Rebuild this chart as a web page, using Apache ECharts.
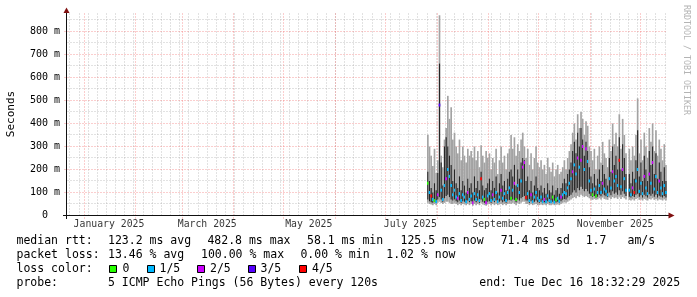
<!DOCTYPE html>
<html><head><meta charset="utf-8">
<script src="https://cdn.jsdelivr.net/npm/echarts@6/dist/echarts.min.js"></script>
<style>html,body{margin:0;padding:0;background:#fff}#c{width:697px;height:297px}</style>
</head><body><div id="c"></div>
<script>
// ---------- data (milliseconds), one value per day starting firstDay ----------
const firstDay = [2025, 6, 26]; // 26 July 2025 (month is 0-based)
const lo = [
 55,50,48,45,50,45,55,60,55,50, 55,60,60,55,50,50,55,50,45,50,
 45,50,48,45,50,45,50,42,50,45, 50,45,55,48,45,42,48,50,45,50,
 45,50,45,48,50,45,50,45,50,52, 50,55,50,45,55,50,55,60,60,50,
 50,45,50,45,48,50,45,45,48,45, 48,45,50,45,45,48,45,47,48,45,
 50,55,58,55,60,65,70,75,80,75, 85,80,90,85,80,85,80,75,70,68,
 72,68,70,75,70,78,72,70,68,78, 72,80,75,78,72,82,72,80,75,70,
 null,68,65,70,65,72,75,68,70,65, 72,68,65,72,70,75,68,72,65,70,
 68,65,70,65];
const dlo = [
 70,62,58,55,60,55,70,80,70,60, 75,85,90,80,70,65,70,62,58,65,
 55,62,60,55,65,58,62,55,65,58, 65,55,70,60,55,52,60,62,55,65,
 58,65,55,60,65,58,62,55,65,68, 65,70,68,58,70,65,75,80,85,65,
 65,55,62,55,60,65,58,55,60,55, 58,55,62,56,55,60,54,57,60,55,
 62,68,72,70,78,85,90,100,110,100, 120,110,125,115,105,115,105,95,85,80,
 85,78,82,90,84,95,88,84,80,100, 88,105,95,100,90,110,90,105,95,85,
 null,82,78,85,80,90,95,82,88,78, 90,84,78,92,86,95,82,90,78,86,
 82,78,85,78];
const dhi = [
 190,150,120,100,140,110,185,660,230,130, 300,340,300,260,220,150,200,140,120,170,
 110,150,130,100,160,120,140,100,170,120, 150,110,190,130,110,120,140,160,110,150,
 120,170,100,140,180,130,150,110,160,190, 200,170,220,130,200,160,230,250,240,150,
 170,110,150,100,130,170,120,110,130,100, 120,95,140,110,100,130,90,110,120,95,
 120,140,160,140,180,200,230,280,320,270, 360,300,380,330,260,320,280,210,170,140,
 180,130,160,200,150,220,180,160,130,250, 190,300,220,260,200,340,200,310,250,180,
 null,180,140,190,160,240,370,170,230,150, 260,200,150,280,220,300,180,270,160,230,
 190,150,210,150];
const hi = [
 350,300,260,215,290,185,240,870,260,210, 330,380,520,420,470,330,360,300,270,330,
 240,300,260,230,290,260,280,250,300,240, 280,210,305,260,230,280,250,270,200,250,
 230,290,180,240,300,230,260,200,270,290, 350,290,340,260,310,280,330,360,300,250,
 290,220,270,200,250,300,230,210,240,200, 220,180,250,210,190,230,170,200,220,180,
 190,210,240,200,250,280,310,360,400,330, 440,380,450,420,350,410,390,300,280,240,
 290,200,260,300,230,320,270,250,210,330, 280,400,310,360,300,440,290,420,350,270,
 null,290,240,300,260,350,509,270,330,240, 360,300,250,380,320,400,280,370,260,330,
 290,240,310,220];
const med = [
 140,100,85,70,65,60,90,480,110,70, 130,160,200,170,130,90,110,80,75,95,
 65,90,80,60,100,70,85,55,95,70, 90,65,160,80,70,55,85,95,65,90,
 70,100,60,80,110,75,95,65,100,120, 75,110,140,70,130,100,150,210,230,78,
 95,65,90,60,80,100,75,65,80,60, 70,60,85,65,60,80,58,68,75,62,
 80,90,100,95,120,140,160,190,220,180, 250,210,240,300,200,290,235,150,110,90,
 115,85,100,130,100,140,115,105,90,160, 120,190,150,170,130,240,125,200,160,110,
 null,110,90,120,100,150,200,105,140,95, 170,120,95,180,140,230,115,170,100,150,
 120,95,130,100];
const loss = [
 0,1,4,1,0,1,2,3,1,1, 1,2,1,1,1,1,1,1,2,1,
 1,1,1,1,2,1,1,2,1,1, 1,1,4,1,0,2,1,1,1,2,
 1,1,1,1,2,1,1,1,1,1, 0,1,2,0,1,1,1,2,2,4,
 1,1,2,1,1,1,1,1,1,1, 2,1,1,1,1,0,1,0,1,1,
 2,1,1,1,1,1,1,2,1,1, 2,1,2,2,1,2,1,1,1,0,
 1,0,1,1,1,2,1,1,1,1, 1,2,1,1,1,4,1,2,1,1,
 null,1,1,2,4,1,1,1,1,1, 2,1,1,2,1,2,1,1,1,2,
 1,1,1,1];
const lossColors = ['#26ff00','#00b8ff','#cc00ff','#5500ff','#ff0000'];
const lossNames = ['0','1/5','2/5','3/5','4/5'];

const monthLabels = ['January 2025','March 2025','May 2025','July 2025','September 2025','November 2025'];
const monthLabelDates = [[2025,0,16],[2025,2,16],[2025,4,16],[2025,6,16],[2025,8,16],[2025,10,16]];
const monthStarts = [[2025,0,1],[2025,1,1],[2025,2,1],[2025,3,1],[2025,4,1],[2025,5,1],[2025,6,1],[2025,7,1],[2025,8,1],[2025,9,1],[2025,10,1],[2025,11,1]];
const yMajor = [100,200,300,400,500,600,700,800];
const yMinor = [50,150,250,350,450,550,650,750,850];
const yTickLabels = {0:'0  ',100:'100 m',200:'200 m',300:'300 m',400:'400 m',500:'500 m',600:'600 m',700:'700 m',800:'800 m'};

const DAY = 86400000;
const ts = a => new Date(a[0], a[1], a[2]).getTime();
const tEnd = new Date(2025, 11, 16, 18, 32, 29).getTime();
const tStart = tEnd - 360 * DAY;
const Y_MAX = 880;
// minor vertical grid every 5.5 days (as in the rrdtool picture), anchored on 1 June
const minorAnchor = ts([2025,5,1]);
const minorX = [];
for (let t = minorAnchor; t > tStart; t -= 5.5 * DAY) minorX.push(t);
for (let t = minorAnchor + 5.5 * DAY; t < tEnd; t += 5.5 * DAY) minorX.push(t);

const base = ts(firstDay);
const rows = [];
for (let i = 0; i < lo.length; i++) {
  if (lo[i] == null) continue;
  rows.push([base + i * DAY, lo[i], dlo[i], dhi[i], hi[i], med[i], loss[i]]);
}

// grid lines: [time, value, kind]  kind 0 minor-x, 1 major-x, 2 minor-y, 3 major-y
const gridRows = [];
minorX.forEach(t => gridRows.push([t, 0, 0]));
yMinor.forEach(v => gridRows.push([tStart, v, 2]));
monthStarts.forEach(d => gridRows.push([ts(d), 0, 1]));
yMajor.forEach(v => gridRows.push([tStart, v, 3]));

const FONT = "'DejaVu Sans Mono', monospace";
const MINOR = 'rgba(150,150,150,0.55)';
const MAJOR = 'rgba(240,90,90,0.6)';

const chart = echarts.init(document.getElementById('c'), null, {renderer: 'canvas'});

function txt(x, y, s, size) {
  return {type: 'text', x: x, y: y, silent: true,
    style: {text: s, fill: '#000', fontSize: size || 11.5, fontFamily: FONT, align: 'left', verticalAlign: 'middle'}};
}
const graphics = [
  {type: 'line', z: 10, shape: {x1: 66.5, y1: 10, x2: 66.5, y2: 219}, style: {stroke: '#111', lineWidth: 1}},
  {type: 'line', z: 10, shape: {x1: 63, y1: 215.5, x2: 669, y2: 215.5}, style: {stroke: '#111', lineWidth: 1}},
  {type: 'polygon', z: 10, shape: {points: [[63.5, 13], [69.5, 13], [66.5, 7.5]]}, style: {fill: '#801010'}},
  {type: 'polygon', z: 10, shape: {points: [[668.5, 212.5], [668.5, 218.5], [674.5, 215.5]]}, style: {fill: '#801010'}},
  {type: 'text', x: 11, y: 114, rotation: Math.PI / 2,
    style: {text: 'Seconds', fill: '#000', fontSize: 11, fontFamily: FONT, align: 'center', verticalAlign: 'middle'}},
  {type: 'text', x: 686, y: 5, rotation: -Math.PI / 2,
    style: {text: 'RRDTOOL / TOBI OETIKER', fill: '#b4b4b4', fontSize: 8.3, fontFamily: FONT, align: 'left', verticalAlign: 'middle'}},
  txt(16.5, 241, 'median rtt:'), txt(108, 241, '123.2 ms avg'), txt(207.4, 241, '482.8 ms max'),
  txt(307, 241, '58.1 ms min'), txt(400.5, 241, '125.5 ms now'), txt(500.7, 241, '71.4 ms sd'),
  txt(585.7, 241, '1.7'), txt(627.5, 241, 'am/s'),
  txt(16.5, 255, 'packet loss:'), txt(108, 255, '13.46 % avg'), txt(201, 255, '100.00 % max'),
  txt(300.4, 255, '0.00 % min'), txt(386.3, 255, '1.02 % now'),
  txt(16.5, 269, 'loss color:'),
  txt(16.5, 283, 'probe:'), txt(108, 283, '5 ICMP Echo Pings (56 Bytes) every 120s'),
  txt(479.3, 283, 'end: Tue Dec 16 18:32:29 2025')
];
const boxX = [109.5, 147.5, 197.5, 248.5, 299.5];
const boxLabelX = [122.5, 159.5, 210, 260.5, 312];
lossColors.forEach((c, k) => {
  graphics.push({type: 'rect', shape: {x: boxX[k], y: 265.5, width: 7, height: 7}, style: {fill: c, stroke: '#000', lineWidth: 1}});
  graphics.push(txt(boxLabelX[k], 269, lossNames[k]));
});

chart.setOption({
  animation: false,
  backgroundColor: '#fff',
  grid: {left: 67, top: 13, right: 30.6, bottom: 81.5, containLabel: false},
  xAxis: {type: 'time', min: tStart, max: tEnd,
    axisLine: {show: false}, axisTick: {show: false}, axisLabel: {show: false}, splitLine: {show: false}},
  yAxis: {type: 'value', min: 0, max: Y_MAX, interval: 100,
    axisLine: {show: false}, axisTick: {show: false}, splitLine: {show: false},
    axisLabel: {margin: 7, fontFamily: FONT, fontSize: 10, color: '#000',
      formatter: v => (yTickLabels[v] !== undefined ? yTickLabels[v] : '')}},
  graphic: graphics,
  series: [
    {type: 'custom', z: 1, silent: true, clip: false,
      encode: {x: 0, y: 1},
      data: gridRows,
      renderItem: function (params, api) {
        const kind = api.value(2);
        const bottom = Math.floor(api.coord([tStart, 0])[1]) + 0.5;
        const top = Math.floor(api.coord([tStart, Y_MAX])[1]) + 0.5;
        const left = Math.floor(api.coord([tStart, 0])[0]) + 0.5;
        const right = Math.floor(api.coord([tEnd, 0])[0]) + 0.5;
        const major = kind === 1 || kind === 3;
        const style = {stroke: major ? MAJOR : MINOR, lineWidth: 1, lineDash: [1, 2], fill: null};
        if (kind <= 1) {
          const x = Math.floor(api.coord([api.value(0), 0])[0]) + 0.5;
          return {type: 'line', shape: {x1: x, y1: top, x2: x, y2: bottom + (major ? 3 : 2)}, style: style};
        }
        const y = Math.floor(api.coord([tStart, api.value(1)])[1]) + 0.5;
        return {type: 'line', shape: {x1: major ? left - 3 : left, y1: y, x2: right, y2: y}, style: style};
      }},
    {type: 'scatter', z: 1, silent: true, symbolSize: 1, itemStyle: {color: 'rgba(0,0,0,0)'},
      data: monthLabelDates.map(d => [ts(d), 0]),
      label: {show: true, position: 'bottom', distance: 3.5, fontFamily: FONT, fontSize: 9.8, color: '#000',
        formatter: p => monthLabels[p.dataIndex]}},
    {type: 'custom', z: 2, silent: true,
      encode: {x: 0, y: [1, 4]},
      data: rows,
      renderItem: function (params, api) {
        const t = api.value(0);
        const w = api.size([DAY, 0])[0];
        const x0 = api.coord([t, 0])[0];
        const yLo = api.coord([t, api.value(1)])[1];
        const yDlo = api.coord([t, api.value(2)])[1];
        const yDhi = api.coord([t, api.value(3)])[1];
        const yHi = api.coord([t, api.value(4)])[1];
        const yMed = api.coord([t, api.value(5)])[1];
        const c = lossColors[api.value(6)];
        return {type: 'group', children: [
          {type: 'rect', shape: {x: x0, y: yHi, width: w, height: yLo - yHi}, style: {fill: '#a3a3a3'}},
          {type: 'rect', shape: {x: x0 + w * 0.15, y: yDhi, width: w * 0.7, height: yDlo - yDhi}, style: {fill: '#262626'}},
          {type: 'rect', shape: {x: x0, y: yMed - 1.5, width: w, height: 3}, style: {fill: c}}
        ]};
      }}
  ]
});
</script></body></html>
